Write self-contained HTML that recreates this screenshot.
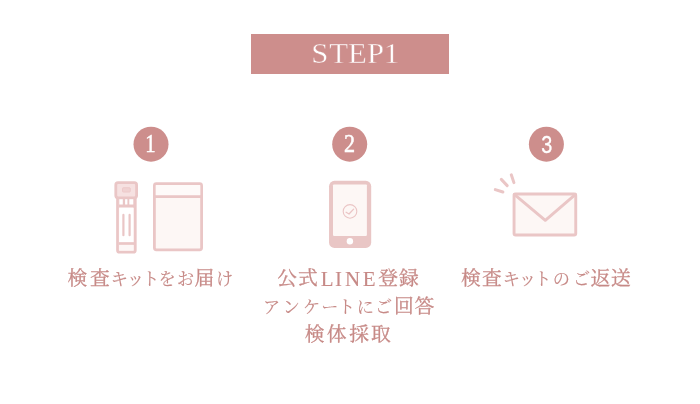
<!DOCTYPE html>
<html lang="ja">
<head>
<meta charset="utf-8">
<title>STEP1</title>
<style>
html,body{margin:0;padding:0;background:#fff;}
body{width:700px;height:404px;overflow:hidden;position:relative;}
svg{display:block;position:absolute;left:0;top:0;will-change:transform;transform:translateZ(0);}
.jp{font-family:"Liberation Serif","Noto Serif CJK JP","Noto Serif CJK SC",serif;fill:#c78a87;stroke:#c78a87;stroke-width:.3px;}
.k{font-size:19.8px;}
.h{font-size:17.2px;stroke-width:.14px;}
.l{font-size:21px;stroke-width:.1px;}
</style>
</head>
<body>
<svg width="700" height="404" viewBox="0 0 700 404">
  <!-- banner -->
  <rect x="251" y="34" width="198" height="40" fill="#cd8e8c"/>
  <text transform="scale(1.06,1)" x="293.7 310.6 328.3 346.3 362.0" y="62.9" font-family="'Liberation Serif',serif" font-size="29" fill="#fff" stroke="#cd8e8c" stroke-width=".4">STEP1</text>

  <!-- circles -->
  <g fill="#cd8e8c">
    <circle cx="151" cy="144.2" r="17.5"/>
    <circle cx="349.7" cy="144.2" r="17.5"/>
    <circle cx="546.4" cy="144.2" r="17.5"/>
  </g>
  <g fill="#fff" stroke="#fff" stroke-width="0.35" text-anchor="middle" font-size="24.6">
    <text transform="translate(150.5 152.2) scale(0.84 1)" x="0" y="0" stroke-width="0.5" font-family="'Liberation Serif',serif">1</text>
    <text transform="translate(349.5 152.2) scale(0.9 1)" x="0" y="0" stroke-width="0.5" font-family="'Liberation Serif',serif">2</text>
    <text transform="translate(546.8 152.7) scale(0.81 1)" x="0" y="0" font-family="'Liberation Sans',sans-serif" font-size="24.5">3</text>
  </g>

  <!-- tube -->
  <g>
    <rect x="117.5" y="196" width="17.8" height="56.2" rx="2" fill="#fbecec" stroke="#eac6c6" stroke-width="2.7"/>
    <rect x="115.8" y="182.7" width="20.8" height="15.1" rx="2.2" fill="#f6e1e1" stroke="#eac6c6" stroke-width="2.8"/>
    <rect x="122.5" y="187.7" width="7.8" height="4.3" rx="0.8" fill="#f0d2d2" stroke="#ecc8c8" stroke-width="0.9"/>
    <rect x="118.8" y="198.8" width="15.2" height="9" fill="#eac6c6"/>
    <rect x="119.3" y="199.2" width="3.5" height="5.3" fill="#fff"/>
    <rect x="125.1" y="199.2" width="2.3" height="5.3" fill="#fff"/>
    <rect x="129.3" y="199.2" width="4" height="5.3" fill="#fff"/>
    <rect x="119.2" y="207.6" width="14.1" height="34.6" fill="#fff"/>
    <rect x="118.8" y="242.2" width="15.2" height="2.7" fill="#eac6c6"/>
    <rect x="119.2" y="244.9" width="14.1" height="5.7" fill="#fdf7f6"/>
    <line x1="123.4" y1="214.9" x2="123.4" y2="235.2" stroke="#eac6c6" stroke-width="2.2" stroke-linecap="round"/>
    <line x1="129.6" y1="214.9" x2="129.6" y2="235.2" stroke="#eac6c6" stroke-width="2.2" stroke-linecap="round"/>
  </g>

  <!-- bag -->
  <rect x="154.4" y="183.7" width="47.2" height="66.1" rx="2" fill="#fdf7f5" stroke="#eac6c6" stroke-width="2.8"/>
  <rect x="155.8" y="185.1" width="44.4" height="10.2" fill="#fefaf9"/>
  <line x1="154.4" y1="196.7" x2="201.6" y2="196.7" stroke="#eac6c6" stroke-width="2.8"/>

  <!-- phone -->
  <rect x="329.05" y="180.8" width="42.15" height="67.1" rx="5.4" fill="#e9c6c5"/>
  <rect x="333" y="184.4" width="33.9" height="51.5" rx="0.8" fill="#fdf7f5"/>
  <circle cx="349.9" cy="241.2" r="3.2" fill="#fff"/>
  <circle cx="350" cy="211.4" r="6.8" fill="none" stroke="#ebc5c5" stroke-width="1.1"/>
  <path d="M346.1 212.3 L349 214 L353.6 209.1" fill="none" stroke="#ebc5c5" stroke-width="1.3" stroke-linecap="round" stroke-linejoin="round"/>

  <!-- envelope -->
  <rect x="514.05" y="194.05" width="61.7" height="41" rx="1.6" fill="#fdf7f5" stroke="#eac6c6" stroke-width="2.9" stroke-linejoin="round"/>
  <path d="M514.3 194.4 L545.3 220.3 L575.5 194.4" fill="none" stroke="#eac6c6" stroke-width="2.9" stroke-linejoin="round" stroke-linecap="round"/>
  <g stroke="#eac6c6" stroke-width="3" stroke-linecap="round">
    <line x1="495.3" y1="189.6" x2="502.9" y2="192.0"/>
    <line x1="501.3" y1="179.4" x2="507.2" y2="185.6"/>
    <line x1="511.3" y1="174.8" x2="513.9" y2="182.6"/>
  </g>

  <!-- captions -->
  <g class="jp">
    <text><tspan class="k" y="285.2" x="67.5 89.9">検査</tspan><tspan class="h" y="285.2" x="110.8 127.1 142.3 158.4 176.9">キットをお</tspan><tspan class="k" y="285.2" x="194.5">届</tspan><tspan class="h" y="285.2" x="216.0">け</tspan></text>
    <text><tspan class="k" y="285.2" x="277.2 298.1">公式</tspan><tspan class="l" y="285.8" x="320.8 334.9 345.0 362.8">LINE</tspan><tspan class="k" y="285.2" x="378.2 399.1">登録</tspan></text>
    <text><tspan class="h" y="312.9" x="263.0 282.7 302.9 321.2 337.9 356.7 374.9">アンケートにご</tspan><tspan class="k" y="312.9" x="393.9 414.6">回答</tspan></text>
    <text><tspan class="k" y="340.6" x="304.8 326.8 349.3 371.1">検体採取</tspan></text>
    <text><tspan class="k" y="285.2" x="461.1 482.1">検査</tspan><tspan class="h" y="285.2" x="502.8 519.1 534.3 552.8 572.9">キットのご</tspan><tspan class="k" y="285.2" x="590.4 611.0">返送</tspan></text>
  </g>
</svg>
</body>
</html>
